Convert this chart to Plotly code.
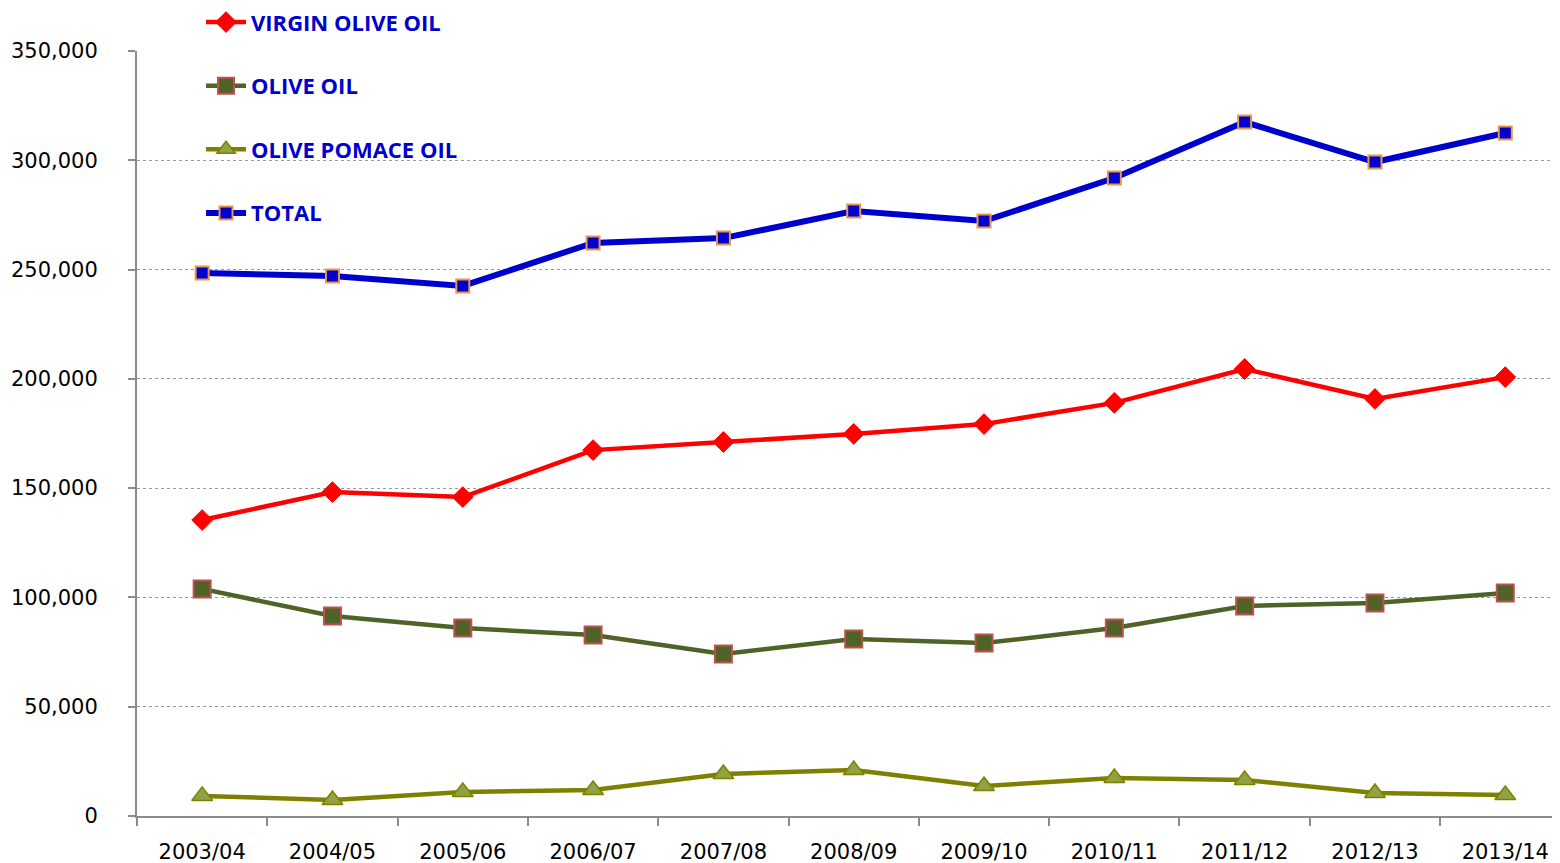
import plotly.graph_objects as go

SEASONS = ["2003/04", "2004/05", "2005/06", "2006/07", "2007/08", "2008/09",
           "2009/10", "2010/11", "2011/12", "2012/13", "2013/14"]

VIRGIN_OLIVE_OIL = [135400, 148200, 145900, 167400, 171100, 174800, 179300, 189000, 204500, 190800, 200800]
OLIVE_OIL = [103900, 91500, 86000, 82800, 74100, 81000, 79100, 86000, 96100, 97500, 102000]
OLIVE_POMACE_OIL = [9200, 7300, 11000, 11900, 19200, 21000, 13700, 17400, 16500, 10500, 9600]
TOTAL = [248400, 247100, 242500, 262200, 264400, 276800, 272200, 291900, 317500, 299200, 312500]

fig = go.Figure()

fig.add_trace(go.Scatter(
    x=SEASONS, y=VIRGIN_OLIVE_OIL, mode="lines+markers", name="VIRGIN OLIVE OIL",
    legendgroup="a",
    line=dict(color="#FF0000", width=4.5),
    marker=dict(symbol="diamond", size=16, color="#FF0000", line=dict(color="#FF0000", width=1)),
))
fig.add_trace(go.Scatter(
    x=SEASONS, y=OLIVE_OIL, mode="lines+markers", name="OLIVE OIL",
    legendgroup="b",
    line=dict(color="#4F6228", width=4.5),
    marker=dict(symbol="square", size=17, color="#4F6228", line=dict(color="#C0504D", width=2)),
))
fig.add_trace(go.Scatter(
    x=SEASONS, y=OLIVE_POMACE_OIL, mode="lines+markers", name="OLIVE POMACE OIL",
    legendgroup="c",
    line=dict(color="#808000", width=4.5),
    marker=dict(symbol="triangle-up", size=18, color="#8FA244", line=dict(color="#808000", width=1.5)),
))
fig.add_trace(go.Scatter(
    x=SEASONS, y=TOTAL, mode="lines+markers", name="TOTAL",
    legendgroup="d",
    line=dict(color="#0000CC", width=6),
    marker=dict(symbol="square", size=13, color="#0000CC", line=dict(color="#E8964A", width=2)),
))

# page body has an 8px margin, so the plot box is shifted by that amount
fig.update_layout(
    width=1560,
    height=863,
    margin=dict(l=129, r=8, t=43, b=55, autoexpand=False),
    plot_bgcolor="white",
    paper_bgcolor="white",
    font=dict(family="DejaVu Sans, sans-serif", size=21, color="black"),
    legend=dict(
        x=0.045, xanchor="left",
        y=1.065, yanchor="top",
        bgcolor="rgba(0,0,0,0)",
        font=dict(family="Open Sans, sans-serif", size=22, color="#0000CC", weight="bold"),
        tracegroupgap=32,
        itemwidth=40,
    ),
)

fig.update_xaxes(
    type="category",
    range=[-0.5, 10.42],
    showgrid=False,
    showline=True, linecolor="#8C8C8C", linewidth=2,
    ticks="outside", tickson="boundaries", ticklen=8, tickcolor="#8C8C8C", tickwidth=2,
    ticklabelstandoff=16,
    tickfont=dict(size=21),
    automargin=False,
)
fig.update_yaxes(
    range=[0, 350000],
    dtick=50000,
    tickformat=",d",
    showgrid=True, gridcolor="#9A9A9A", griddash="dot", gridwidth=1,
    showline=True, linecolor="#8C8C8C", linewidth=2,
    ticks="outside", ticklen=7, tickcolor="#8C8C8C", tickwidth=2,
    ticklabelstandoff=26,
    tickfont=dict(size=21),
    zeroline=False,
    automargin=False,
)

fig.write_html("out.html")
